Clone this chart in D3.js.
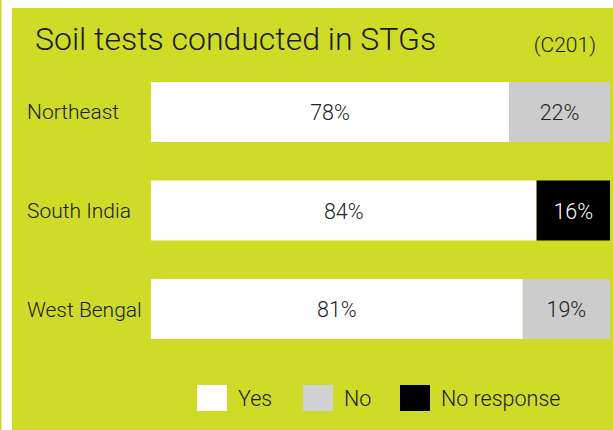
<!DOCTYPE html>
<html><head><meta charset="utf-8">
<script src="https://cdn.jsdelivr.net/npm/d3@7"></script>
<style>
html,body{margin:0;padding:0;background:#fff;}
svg{display:block;font-family:Roboto,"Noto Sans",sans-serif;}
</style></head>
<body>
<svg id="chart" width="613" height="430"></svg>
<script>
const regions = ["Northeast", "South India", "West Bengal"];
const yesValues = [78, 84, 81];
const noValues = [22, 0, 19];
const noResponseValues = [0, 16, 0];
const seriesNames = ["Yes", "No", "No response"];
const title = "Soil tests conducted in STGs";
const code = "(C201)";

const green = "#cedc28";
const colors = {"Yes": "#ffffff", "No": "#cccccc", "No response": "#000000"};
const legendColors = {"Yes": "#ffffff", "No": "#d1d1d3", "No response": "#000000"};
const textColors = {"Yes": "#222222", "No": "#222222", "No response": "#ffffff"};

const svg = d3.select("#chart");
svg.append("rect").attr("x", 0).attr("y", 0).attr("width", 1.5).attr("height", 430).attr("fill", green);
svg.append("rect").attr("x", 12).attr("y", 8).attr("width", 601).attr("height", 422).attr("fill", green);

svg.append("text").attr("x", 35).attr("y", 50).attr("font-size", 32).attr("font-weight", 300)
  .attr("fill", "#1a1a1a").text(title);
svg.append("text").attr("x", 596).attr("y", 52).attr("text-anchor", "end").attr("font-size", 21).attr("font-weight", 300)
  .attr("fill", "#1a1a1a").text(code);

const data = regions.map((r, i) => ({region: r, "Yes": yesValues[i], "No": noValues[i], "No response": noResponseValues[i]}));
const stack = d3.stack().keys(seriesNames)(data);

const x = d3.scaleLinear().domain([0, 100]).range([151, 610]);
const y = d3.scaleBand().domain(regions).range([82, 339]).paddingInner(0.391).paddingOuter(0);

const g = svg.append("g");
stack.forEach(layer => {
  const key = layer.key;
  layer.forEach((d, i) => {
    const w = x(d[1]) - x(d[0]);
    if (w <= 0) return;
    g.append("rect").attr("x", x(d[0])).attr("y", y(regions[i]))
      .attr("width", w).attr("height", y.bandwidth()).attr("fill", colors[key]);
    g.append("text").attr("x", (x(d[0]) + x(d[1])) / 2).attr("y", y(regions[i]) + y.bandwidth() / 2 + 8)
      .attr("text-anchor", "middle").attr("font-size", 21.5).attr("font-weight", 300)
      .attr("fill", textColors[key]).text((d[1] - d[0]) + "%");
  });
});

regions.forEach(r => {
  svg.append("text").attr("x", 27).attr("y", y(r) + y.bandwidth() / 2 + 7.5)
    .attr("font-size", 21).attr("font-weight", 300).attr("fill", "#1a1a1a").text(r);
});

const legendX = [197, 303, 400];
const leg = svg.append("g");
seriesNames.forEach((s, i) => {
  leg.append("rect").attr("x", legendX[i]).attr("y", 385).attr("width", 30).attr("height", 26).attr("fill", legendColors[s]);
  leg.append("text").attr("x", legendX[i] + 41).attr("y", 406).attr("font-size", 21.5).attr("font-weight", 300)
    .attr("fill", "#1a1a1a").text(s);
});
</script>
</body></html>
